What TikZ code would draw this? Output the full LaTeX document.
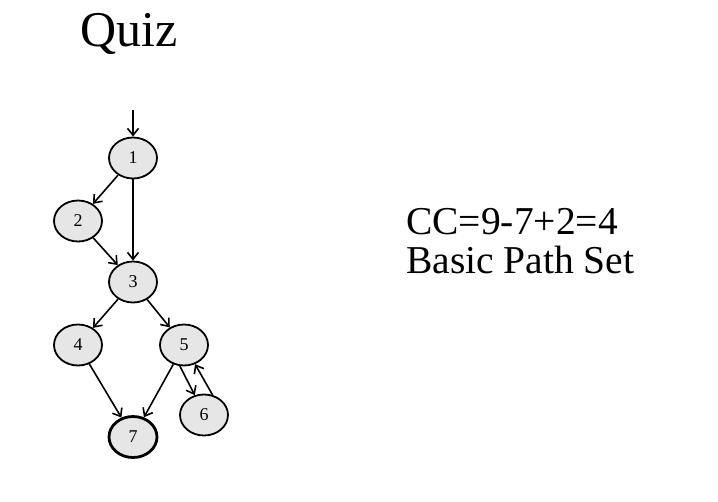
\documentclass[tikz,border=0pt]{standalone}
\usepackage{fontspec}
\setmainfont{Liberation Serif}
\usetikzlibrary{shapes.geometric,arrows.meta}
\definecolor{nodefill}{HTML}{E6E6E6}
\tikzset{
  vtx/.style={ellipse,draw,line width=1.8pt,fill=nodefill,minimum width=48pt,minimum height=41pt,inner sep=0pt,font=\fontsize{18}{18}\selectfont},
  vtxend/.style={vtx,line width=2.8pt},
  edge/.style={line width=1.6pt,-{Straight Barb[length=7pt,width=11pt,line width=1.6pt]}},
  bigtext/.style={anchor=base west,inner sep=0pt,font=\fontsize{39.5}{39.5}\selectfont}
}
\begin{document}
\begin{tikzpicture}[x=1pt,y=-1pt]
\useasboundingbox (0,0) rectangle (718,501);
\node[anchor=base west,inner sep=0pt,font=\fontsize{50}{50}\selectfont] (title) at (80,46) {Quiz};
\node[bigtext] (cc) at (406,234) {CC=9-7+2=4};
\node[bigtext] (bps) at (406,273) {Basic Path Set};

\coordinate (in) at (133,110);
\node[vtx] (n1) at (133,158) {1};
\node[vtx] (n2) at (78,221) {2};
\node[vtx] (n3) at (133,282) {3};
\node[vtx] (n4) at (78,345) {4};
\node[vtx] (n5) at (184,345) {5};
\node[vtx] (n6) at (204,415) {6};
\node[vtxend] (n7) at (133,437) {7};

\draw[edge] (in) -- (n1);
\draw[edge] (n1) -- (n2);
\draw[edge] (n1.south) -- (n3.north);
\draw[edge] (n2) -- (n3);
\draw[edge] (n3) -- (n4);
\draw[edge] (n3) -- (n5);
\draw[edge] (n4) -- (n7);
\draw[edge] (n5) -- (n7);
\draw[edge] (n5.-101) -- (n6.115);
\draw[edge] (n6.67) -- (n5.-60);
\end{tikzpicture}
\end{document}
